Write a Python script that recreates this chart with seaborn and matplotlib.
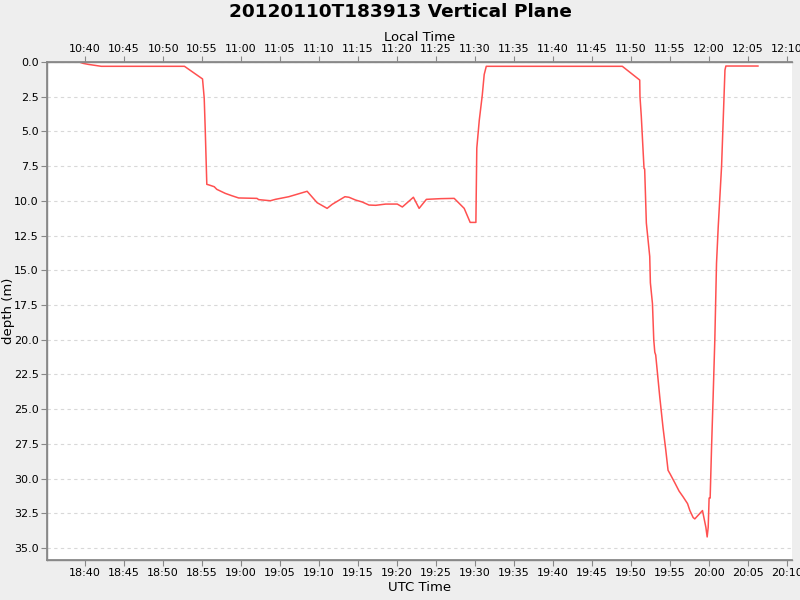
import matplotlib
matplotlib.use("Agg")
import matplotlib.pyplot as plt
import matplotlib.dates as mdates
import seaborn as sns
import pandas as pd
import numpy as np

# ---- data (UTC time, depth in m) ----
utc_times = [
    "18:39:13", "18:39:45", "18:40:23", "18:42:04", "18:52:44", "18:55:03",
    "18:55:16", "18:55:24", "18:55:36", "18:55:55", "18:56:33", "18:56:53",
    "18:57:58", "18:58:49", "18:59:41", "19:02:02", "19:02:15", "19:03:45",
    "19:04:24", "19:06:07", "19:08:28", "19:09:45", "19:11:02", "19:11:41",
    "19:13:19", "19:13:50", "19:14:41", "19:15:32", "19:16:24", "19:17:16",
    "19:18:33", "19:20:02", "19:20:41", "19:22:06", "19:22:50", "19:23:46",
    "19:25:37", "19:27:20", "19:28:37", "19:29:23", "19:30:07", "19:30:14",
    "19:30:33", "19:30:56", "19:31:11", "19:31:27", "19:48:54", "19:51:08",
    "19:51:10", "19:51:20", "19:51:41", "19:51:46", "19:51:59", "19:52:25",
    "19:52:30", "19:52:46", "19:52:56", "19:53:04", "19:53:11", "19:53:42",
    "19:54:07", "19:54:28", "19:54:46", "19:55:04", "19:55:38", "19:56:11",
    "19:56:41", "19:57:16", "19:57:34", "19:57:59", "19:58:12", "19:59:11",
    "19:59:37", "19:59:47", "19:59:55", "20:00:02", "20:00:10", "20:00:21",
    "20:00:33", "20:00:46", "20:00:59", "20:01:12", "20:01:38", "20:02:04",
    "20:02:11", "20:06:20",
]
depths = [
    0.00, 0.10, 0.17, 0.31, 0.31, 1.22,
    2.60, 4.90, 8.81, 8.86, 8.98, 9.17,
    9.46, 9.63, 9.79, 9.82, 9.91, 9.99,
    9.89, 9.70, 9.31, 10.13, 10.54, 10.25,
    9.70, 9.74, 9.94, 10.08, 10.30, 10.32,
    10.23, 10.23, 10.44, 9.74, 10.54, 9.89,
    9.84, 9.82, 10.54, 11.55, 11.55, 6.20,
    4.20, 2.40, 0.90, 0.31, 0.31, 1.30,
    2.50, 3.90, 7.66, 7.70, 11.60, 14.00,
    15.90, 17.40, 20.00, 20.90, 21.10, 24.10,
    26.30, 27.90, 29.40, 29.70, 30.30, 30.90,
    31.30, 31.80, 32.30, 32.80, 32.90, 32.30,
    33.50, 34.20, 33.50, 31.40, 31.40, 27.70,
    24.10, 20.00, 14.50, 11.90, 7.50, 0.58,
    0.29, 0.29,
]
date_str = "2012-01-10"
title = "20120110T183913 Vertical Plane"
local_offset_hours = -8

df = pd.DataFrame({
    "utc": pd.to_datetime([f"{date_str} {t}" for t in utc_times]),
    "depth": depths,
})

sns.set_theme(style="white")
plt.rcParams["font.family"] = ["DejaVu Sans"]
plt.rcParams["text.color"] = "black"
plt.rcParams["axes.labelcolor"] = "black"
plt.rcParams["xtick.color"] = "black"
plt.rcParams["ytick.color"] = "black"

fig = plt.figure(figsize=(8, 6), dpi=100, facecolor="#eeeeee")
ax = fig.add_axes([47/800, 1-560/600, (792-47)/800, (560-62)/600])
ax.set_facecolor("white")

sns.lineplot(data=df, x="utc", y="depth", ax=ax, color="#ff5050",
             linewidth=1.1, estimator=None, sort=False)

x0 = pd.Timestamp(f"{date_str} 18:35:06")
x1 = pd.Timestamp(f"{date_str} 20:10:40")
ax.set_xlim(x0, x1)
ax.set_ylim(35.86, 0)
ax.set_yticks(np.arange(0, 35.1, 2.5))
ax.yaxis.set_major_formatter(matplotlib.ticker.FormatStrFormatter("%.1f"))
ax.xaxis.set_major_locator(mdates.MinuteLocator(byminute=range(0, 60, 5)))
ax.xaxis.set_major_formatter(mdates.DateFormatter("%H:%M"))

ax.yaxis.grid(True, color="#d8d8d8", linestyle=(0, (3, 3)), linewidth=0.8)
ax.xaxis.grid(False)

spine_c = "#888888"
for s in ["left", "bottom", "top"]:
    ax.spines[s].set_color(spine_c)
    ax.spines[s].set_linewidth(1.0)
ax.spines["right"].set_visible(False)

ax.tick_params(axis="both", which="major", direction="out", length=4,
               width=0.8, color=spine_c, labelsize=8, pad=2,
               bottom=True, left=True, labelcolor="black")
ax.set_xlabel("UTC Time", fontsize=9.5, labelpad=2, color="black")
ax.set_ylabel("depth (m)", fontsize=9.5, color="black")
ax.yaxis.set_label_coords(-32/745, 0.5)

ax2 = ax.twiny()
off = pd.Timedelta(hours=local_offset_hours)
ax2.set_xlim(x0 + off, x1 + off)
ax2.xaxis.set_major_locator(mdates.MinuteLocator(byminute=range(0, 60, 5)))
ax2.xaxis.set_major_formatter(mdates.DateFormatter("%H:%M"))
ax2.tick_params(axis="x", direction="out", length=4, width=0.8,
                color=spine_c, labelsize=8, pad=2, top=True,
                labelcolor="black")
for s in ["left", "bottom", "top"]:
    ax2.spines[s].set_color(spine_c)
ax2.spines["right"].set_visible(False)
ax2.set_xlabel("Local Time", fontsize=9.5, labelpad=2, color="black")
ax2.grid(False)

fig.text(0.5, 1-12/600, title, ha="center", va="center",
         fontsize=13.3, fontweight="bold", color="black")

fig.savefig("out.png", dpi=100, facecolor=fig.get_facecolor())
